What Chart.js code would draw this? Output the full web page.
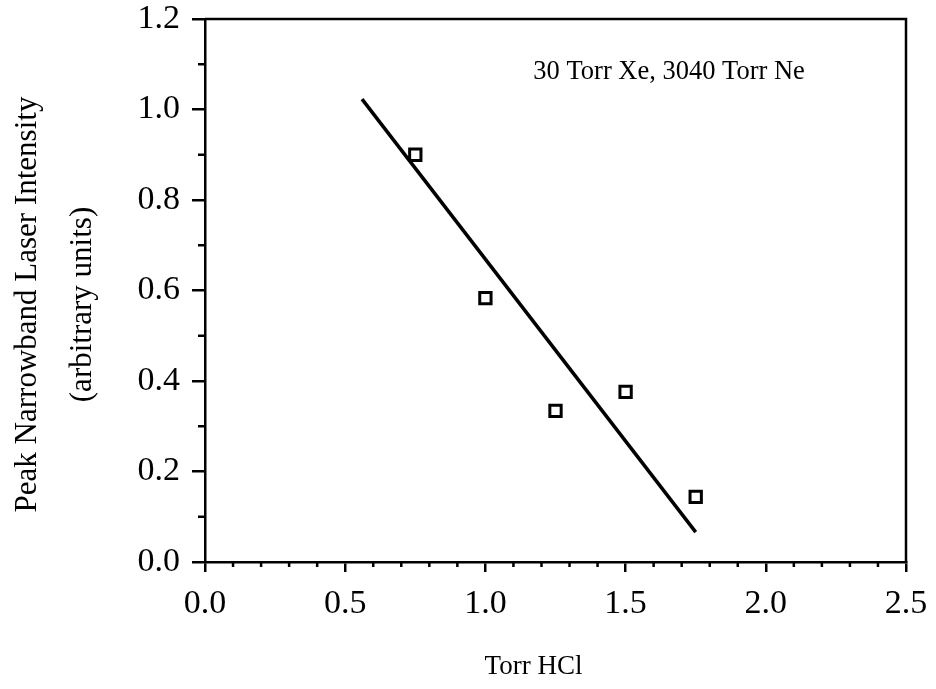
<!DOCTYPE html>
<html>
<head>
<meta charset="utf-8">
<script src="https://cdn.jsdelivr.net/npm/chart.js@4/dist/chart.umd.min.js"></script>
<style>
  html, body { margin: 0; padding: 0; background: #fff; }
  #wrap { width: 936px; height: 689px; }
</style>
</head>
<body>
<div id="wrap"><canvas id="myChart" width="936" height="689"></canvas></div>
<script>
'use strict';
const SERIF = "'Liberation Serif', 'DejaVu Serif', serif";

// measured points
const torrHcl = [0.75, 1.0, 1.25, 1.5, 1.75];
const intensity = [0.90, 0.583, 0.334, 0.376, 0.144];
// fitted line, read at its two ends
const fitX = [0.56, 1.75];
const fitY = [1.023, 0.066];

const xTicks = [0.0, 0.5, 1.0, 1.5, 2.0, 2.5];
const yTicks = [0.0, 0.2, 0.4, 0.6, 0.8, 1.0, 1.2];

const xTitle = 'Torr HCl';
const yTitle = ['Peak Narrowband Laser Intensity', '(arbitrary units)'];
const note = '30 Torr Xe, 3040 Torr Ne';

// border box, minor ticks, titles and the note
const framePlugin = {
  id: 'frame',
  afterDraw(chart) {
    const c = chart.ctx;
    const a = chart.chartArea;
    const xs = chart.scales.x;
    const ys = chart.scales.y;
    c.save();
    c.strokeStyle = '#000';
    c.lineWidth = 2.5;
    c.beginPath();
    c.moveTo(a.left, a.top);
    c.lineTo(a.right, a.top);
    c.lineTo(a.right, a.bottom);
    c.stroke();

    // minor ticks every 0.1
    for (let i = 1; i < 25; i++) {
      if (i % 5 === 0) continue;
      const px = xs.getPixelForValue(i / 10);
      c.beginPath();
      c.moveTo(px, a.bottom);
      c.lineTo(px, a.bottom + 5);
      c.stroke();
    }
    for (let i = 1; i < 12; i += 2) {
      const py = ys.getPixelForValue(i / 10);
      c.beginPath();
      c.moveTo(a.left, py);
      c.lineTo(a.left - 7, py);
      c.stroke();
    }

    c.fillStyle = '#000';
    c.font = '26.5px ' + SERIF;
    c.textAlign = 'left';
    c.textBaseline = 'middle';
    c.fillText(note, xs.getPixelForValue(1.171), ys.getPixelForValue(1.083));

    c.font = '27px ' + SERIF;
    c.textAlign = 'center';
    c.fillText(xTitle, (a.left + a.right) / 2 - 22, 667);

    c.font = '31px ' + SERIF;
    c.translate(28, (a.top + a.bottom) / 2 + 14);
    c.rotate(-Math.PI / 2);
    c.fillText(yTitle[0], 0, 0);
    c.fillText(yTitle[1], 0, 55);
    c.restore();
  }
};

const ctx = document.getElementById('myChart');
new Chart(ctx, {
  type: 'scatter',
  data: {
    datasets: [{
      label: 'data',
      data: torrHcl.map((x, i) => ({ x: x, y: intensity[i] })),
      pointStyle: 'rect',
      pointRadius: 8,
      pointBorderWidth: 3,
      pointBackgroundColor: '#fff',
      pointBorderColor: '#000',
      showLine: false
    }, {
      label: 'fit',
      type: 'line',
      data: fitX.map((x, i) => ({ x: x, y: fitY[i] })),
      borderColor: '#000',
      borderWidth: 3.5,
      pointRadius: 0,
      fill: false
    }]
  },
  options: {
    responsive: false,
    animation: false,
    layout: { padding: { top: 19, right: 30, left: 0, bottom: 0 } },
    plugins: { legend: { display: false }, tooltip: { enabled: false } },
    scales: {
      x: {
        type: 'linear',
        min: 0, max: 2.5,
        afterFit: (s) => { s.height = 127; s.paddingLeft = 0; s.paddingRight = 0; },
        afterBuildTicks: (s) => { s.ticks = xTicks.map(v => ({ value: v })); },
        border: { display: true, color: '#000', width: 2.5 },
        grid: { drawOnChartArea: false, drawTicks: true, tickLength: 10, color: '#000', lineWidth: 2.5 },
        ticks: {
          color: '#000', padding: 12,
          font: { family: SERIF, size: 34 },
          callback: (v) => Number(v).toFixed(1)
        }
      },
      y: {
        type: 'linear',
        min: 0, max: 1.2,
        afterFit: (s) => { s.width = 205; s.paddingTop = 0; s.paddingBottom = 0; },
        afterBuildTicks: (s) => { s.ticks = yTicks.map(v => ({ value: v })); },
        border: { display: true, color: '#000', width: 2.5 },
        grid: { drawOnChartArea: false, drawTicks: true, tickLength: 13, color: '#000', lineWidth: 2.5 },
        ticks: {
          color: '#000', padding: 12,
          font: { family: SERIF, size: 34 },
          callback: (v) => Number(v).toFixed(1)
        }
      }
    }
  },
  plugins: [framePlugin]
});
</script>
</body>
</html>
